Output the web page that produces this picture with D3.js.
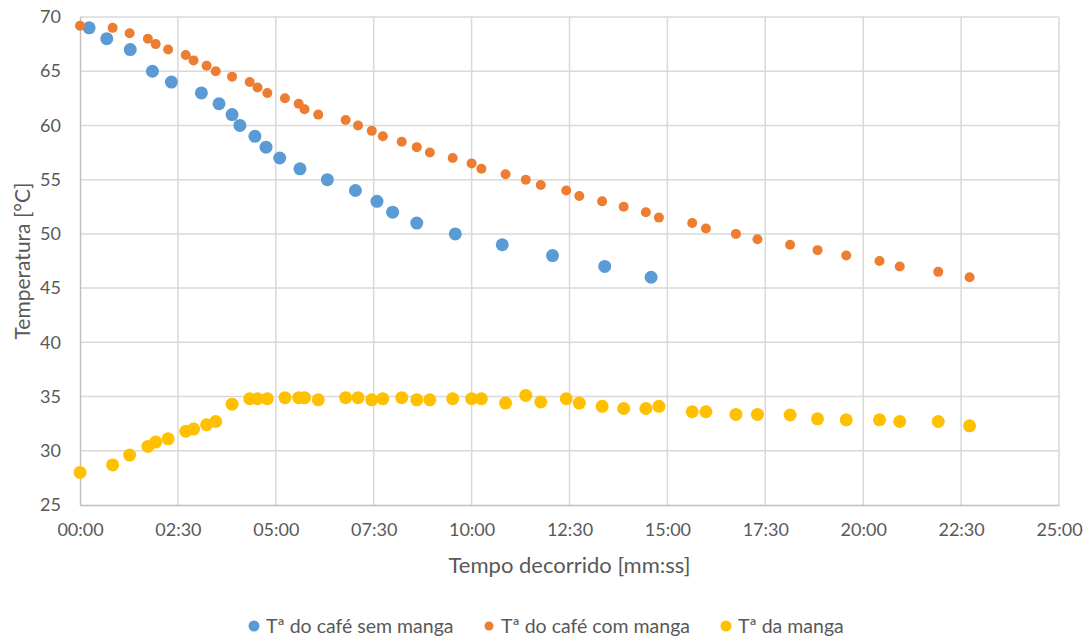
<!DOCTYPE html>
<html>
<head>
<meta charset="utf-8">
<script src="https://cdn.jsdelivr.net/npm/d3@7.9.0/dist/d3.min.js"></script>
<style>
  body { margin: 0; background: #fff; }
  svg text { font-family: Lato, "Open Sans", sans-serif; fill: #595959; }
</style>
</head>
<body>
<svg id="chart" width="1088" height="639"></svg>
<script>
// tempo decorrido (mm:ss) e temperaturas
const semMangaTime = ['00:14', '00:41', '01:17', '01:51', '02:20', '03:06', '03:33', '03:53',
  '04:05', '04:28', '04:45', '05:06', '05:37', '06:19', '07:02', '07:35', '07:59', '08:36',
  '09:35', '10:47', '12:04', '13:24', '14:35'];
const semMangaTemp = [69, 68, 67, 65, 64, 63, 62, 61, 60, 59, 58, 57, 56, 55, 54, 53, 52, 51,
  50, 49, 48, 47, 46];

const comMangaTime = ['00:00', '00:50', '01:16', '01:44', '01:56', '02:15', '02:42', '02:54',
  '03:14', '03:28', '03:53', '04:20', '04:32', '04:47', '05:14', '05:35', '05:44', '06:05',
  '06:47', '07:06', '07:27', '07:44', '08:13', '08:36', '08:56', '09:31', '10:00', '10:15',
  '10:52', '11:23', '11:46', '12:25', '12:45', '13:20', '13:53', '14:27', '14:47', '15:38',
  '15:59', '16:45', '17:18', '18:08', '18:50', '19:34', '20:25', '20:56', '21:55', '22:43'];
const comMangaTemp = [69.2, 69, 68.5, 68, 67.5, 67, 66.5, 66, 65.5, 65, 64.5, 64, 63.5, 63,
  62.5, 62, 61.5, 61, 60.5, 60, 59.5, 59, 58.5, 58, 57.5, 57, 56.5, 56, 55.5, 55, 54.5, 54,
  53.5, 53, 52.5, 52, 51.5, 51, 50.5, 50, 49.5, 49, 48.5, 48, 47.5, 47, 46.5, 46];

const mangaTime = comMangaTime;
const mangaTemp = [28, 28.7, 29.6, 30.4, 30.8, 31.1, 31.8, 32, 32.4, 32.7, 34.3, 34.8, 34.8,
  34.8, 34.9, 34.9, 34.9, 34.7, 34.9, 34.9, 34.7, 34.8, 34.9, 34.7, 34.7, 34.8, 34.8, 34.8,
  34.4, 35.1, 34.5, 34.8, 34.4, 34.1, 33.9, 33.9, 34.1, 33.6, 33.6, 33.35, 33.35, 33.3, 32.95,
  32.85, 32.85, 32.7, 32.7, 32.3];

const xTicks = ['00:00', '02:30', '05:00', '07:30', '10:00', '12:30', '15:00', '17:30', '20:00',
  '22:30', '25:00'];
const yTicks = [25, 30, 35, 40, 45, 50, 55, 60, 65, 70];

const toSec = (s) => {
  const [m, ss] = s.split(':');
  return +m * 60 + +ss;
};

const series = [
  { name: 'Tª do café sem manga', color: '#5B9BD5', r: 6.5, time: semMangaTime, temp: semMangaTemp },
  { name: 'Tª do café com manga', color: '#ED7D31', r: 5, time: comMangaTime, temp: comMangaTemp },
  { name: 'Tª da manga', color: '#FFC000', r: 6.5, time: mangaTime, temp: mangaTemp }
];

const svg = d3.select('#chart');
const margin = { left: 80, right: 29, top: 17, bottom: 134 };
const width = 1088, height = 639;

const x = d3.scaleLinear()
  .domain([0, toSec(xTicks[xTicks.length - 1])])
  .range([margin.left, width - margin.right]);
const y = d3.scaleLinear()
  .domain([25, 70])
  .range([height - margin.bottom, margin.top]);

// grelha
svg.append('g')
  .selectAll('line')
  .data(yTicks.slice(1))
  .join('line')
  .attr('x1', x.range()[0]).attr('x2', x.range()[1])
  .attr('y1', d => y(d)).attr('y2', d => y(d))
  .attr('stroke', '#d9d9d9').attr('stroke-width', 1.5);

svg.append('g')
  .selectAll('line')
  .data(xTicks.slice(1))
  .join('line')
  .attr('x1', d => x(toSec(d))).attr('x2', d => x(toSec(d)))
  .attr('y1', y.range()[0]).attr('y2', y.range()[1])
  .attr('stroke', '#d9d9d9').attr('stroke-width', 1.5);

// eixos
const xAxis = d3.axisBottom(x)
  .tickValues(xTicks.map(toSec))
  .tickFormat((d, i) => xTicks[i])
  .tickSize(0)
  .tickPadding(18);
const gx = svg.append('g')
  .attr('transform', `translate(0,${y.range()[0]})`)
  .call(xAxis);
gx.select('.domain').attr('stroke', '#bfbfbf').attr('stroke-width', 1.5);
gx.selectAll('text').style('font-size', '18px');

const yAxis = d3.axisLeft(y)
  .tickValues(yTicks)
  .tickSize(0)
  .tickPadding(19);
const gy = svg.append('g')
  .attr('transform', `translate(${x.range()[0]},0)`)
  .call(yAxis);
gy.select('.domain').attr('stroke', '#bfbfbf').attr('stroke-width', 1.5);
gy.selectAll('text').style('font-size', '18px');

// pontos
series.forEach((s) => {
  svg.append('g')
    .selectAll('circle')
    .data(s.time.map((t, i) => ({ t: toSec(t), v: s.temp[i] })))
    .join('circle')
    .attr('cx', d => x(d.t))
    .attr('cy', d => y(d.v))
    .attr('r', s.r)
    .attr('fill', s.color);
});

// títulos
svg.append('text')
  .attr('x', (x.range()[0] + x.range()[1]) / 2)
  .attr('y', 573)
  .attr('text-anchor', 'middle')
  .style('font-size', '22px')
  .text('Tempo decorrido [mm:ss]');

svg.append('text')
  .attr('transform', `translate(30,${(y.range()[0] + y.range()[1]) / 2}) rotate(-90)`)
  .attr('text-anchor', 'middle')
  .style('font-size', '21px')
  .text('Temperatura [°C]');

// legenda
const legendX = [254, 489, 726];
const legend = svg.append('g');
series.forEach((s, i) => {
  legend.append('circle')
    .attr('cx', legendX[i]).attr('cy', 626)
    .attr('r', i === 1 ? 4.5 : 5.5)
    .attr('fill', s.color);
  legend.append('text')
    .attr('x', legendX[i] + 12).attr('y', 633)
    .style('font-size', '19.5px')
    .text(s.name);
});
</script>
</body>
</html>
